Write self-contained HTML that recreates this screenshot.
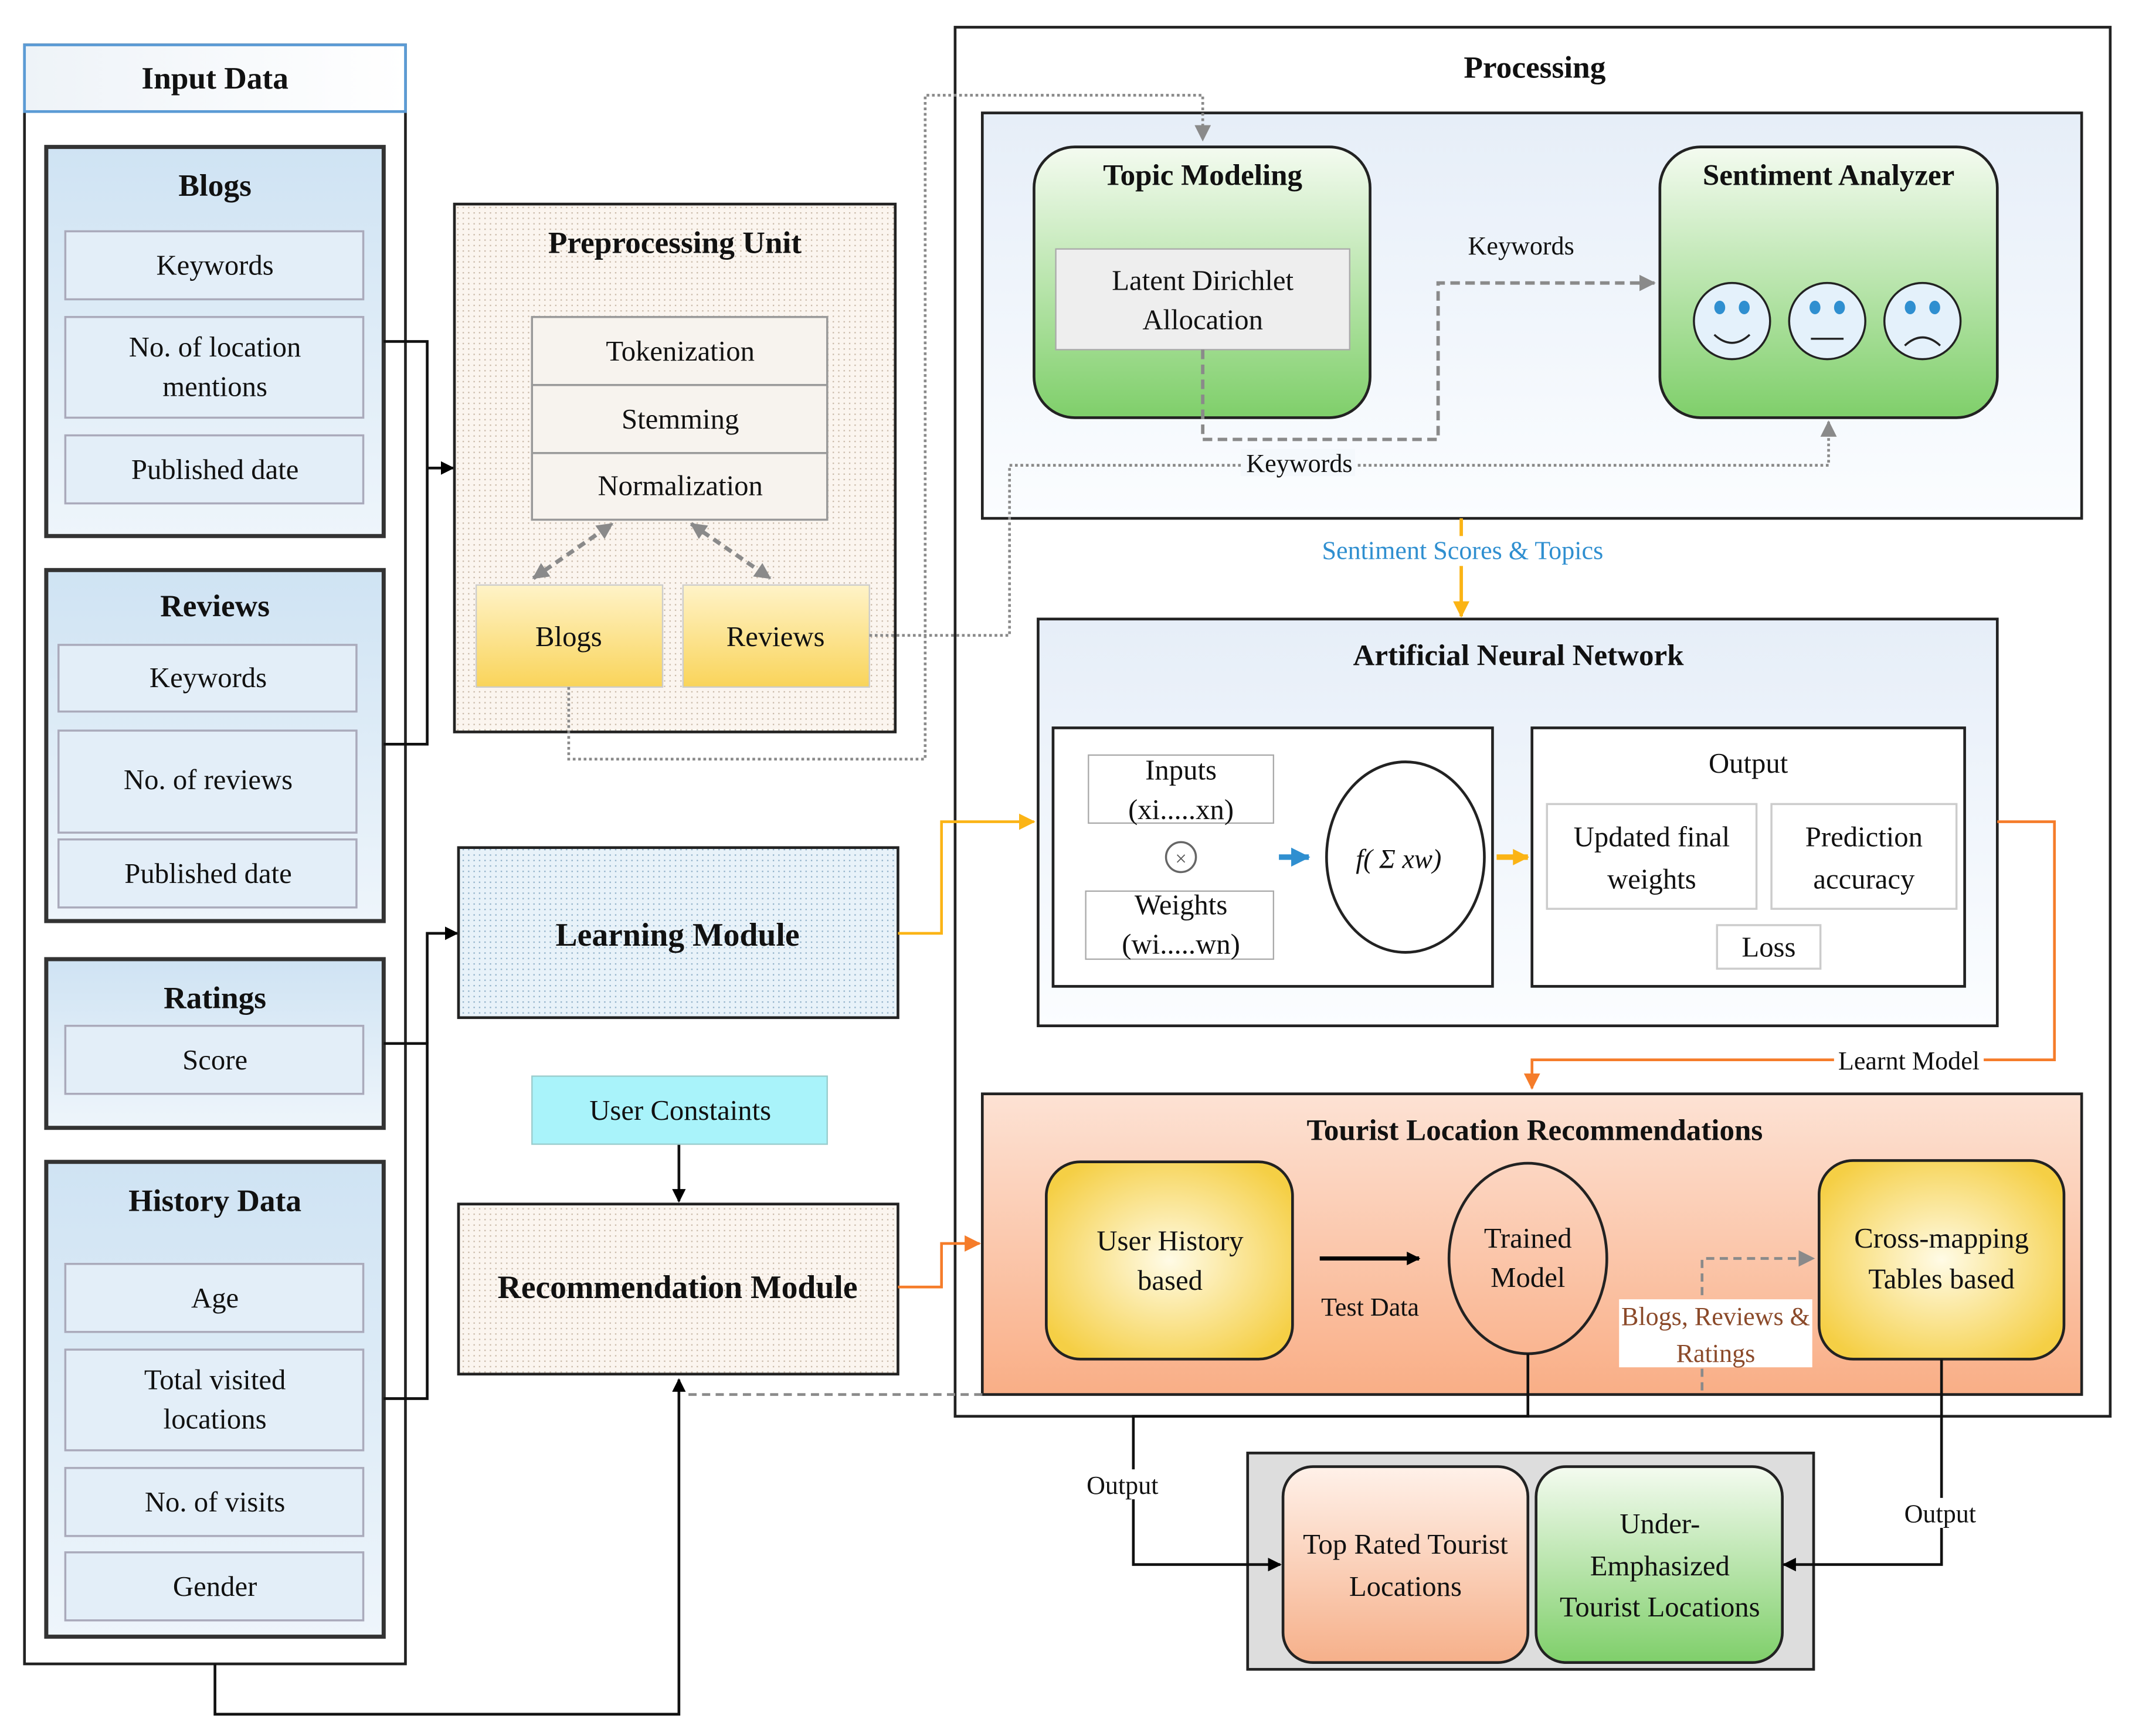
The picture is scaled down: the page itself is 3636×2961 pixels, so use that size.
<!DOCTYPE html>
<html><head><meta charset="utf-8"><style>html,body{margin:0;padding:0;background:#fff}svg{display:block}</style></head><body>
<svg width="3636" height="2961" viewBox="0 0 1567 1276" preserveAspectRatio="none" xmlns="http://www.w3.org/2000/svg" font-family="Liberation Serif, serif">
<defs>
<linearGradient id="gb" x1="0" y1="0" x2="0" y2="1"><stop offset="0" stop-color="#cfe3f3"/><stop offset="1" stop-color="#eef5fb"/></linearGradient>
<linearGradient id="gy" x1="0" y1="0" x2="0" y2="1"><stop offset="0" stop-color="#fff3c8"/><stop offset="1" stop-color="#f9d45a"/></linearGradient>
<linearGradient id="gg" x1="0" y1="0" x2="0" y2="1"><stop offset="0" stop-color="#f4fbf0"/><stop offset="1" stop-color="#7fcf6a"/></linearGradient>
<linearGradient id="gp" x1="0" y1="0" x2="0" y2="1"><stop offset="0" stop-color="#e6eef8"/><stop offset="1" stop-color="#fbfdff"/></linearGradient>
<linearGradient id="go" x1="0" y1="0" x2="0" y2="1"><stop offset="0" stop-color="#fde2d4"/><stop offset="1" stop-color="#f9ae86"/></linearGradient>
<linearGradient id="go2" x1="0" y1="0" x2="0" y2="1"><stop offset="0" stop-color="#fff1e9"/><stop offset="1" stop-color="#f6b08a"/></linearGradient>
<radialGradient id="ry" cx="0.5" cy="0.5" r="0.6"><stop offset="0" stop-color="#fffbe6"/><stop offset="1" stop-color="#f5cf45"/></radialGradient>
<linearGradient id="gh" x1="0" y1="0" x2="1" y2="0"><stop offset="0" stop-color="#eef3f8"/><stop offset="1" stop-color="#ffffff"/></linearGradient>
<pattern id="dt" width="4" height="4" patternUnits="userSpaceOnUse"><rect width="4" height="4" fill="#fbf5ef"/><rect width="1" height="1" fill="#c9b9a8"/></pattern>
<pattern id="db" width="4" height="4" patternUnits="userSpaceOnUse"><rect width="4" height="4" fill="#e8f2f9"/><rect width="1" height="1" fill="#8fb0c8"/></pattern>
<marker id="ak" markerWidth="10" markerHeight="10" refX="9" refY="5" orient="auto" markerUnits="userSpaceOnUse"><path d="M0,0 L10,5 L0,10z" fill="#000"/></marker>
<marker id="ag" markerWidth="12" markerHeight="12" refX="11" refY="6" orient="auto-start-reverse" markerUnits="userSpaceOnUse"><path d="M0,0 L12,6 L0,12z" fill="#8a8a8a"/></marker>
<marker id="ay" markerWidth="12" markerHeight="12" refX="11" refY="6" orient="auto" markerUnits="userSpaceOnUse"><path d="M0,0 L12,6 L0,12z" fill="#fbb415"/></marker>
<marker id="ao" markerWidth="12" markerHeight="12" refX="11" refY="6" orient="auto" markerUnits="userSpaceOnUse"><path d="M0,0 L12,6 L0,12z" fill="#f57c2a"/></marker>
<marker id="ab" markerWidth="14" markerHeight="14" refX="13" refY="7" orient="auto" markerUnits="userSpaceOnUse"><path d="M0,0 L14,7 L0,14z" fill="#2f8fd0"/></marker>
</defs>
<g font-size="21" text-anchor="middle" fill="#111">
<rect x="18" y="33" width="280" height="1190" fill="#fff" stroke="#222" stroke-width="2"/>
<rect x="18" y="33" width="280" height="49" fill="url(#gh)" stroke="#5b9bd5" stroke-width="2"/>
<text x="158" y="65" font-weight="bold" font-size="23">Input Data</text>
<g stroke="#333" stroke-width="3">
<rect x="34" y="108" width="248" height="286" fill="url(#gb)"/>
<rect x="34" y="419" width="248" height="258" fill="url(#gb)"/>
<rect x="34" y="705" width="248" height="124" fill="url(#gb)"/>
<rect x="34" y="854" width="248" height="349" fill="url(#gb)"/>
</g>
<g fill="#e3eef8" stroke="#aab" stroke-width="1.5">
<rect x="48" y="170" width="219" height="50"/><rect x="48" y="233" width="219" height="74"/><rect x="48" y="320" width="219" height="50"/>
<rect x="43" y="474" width="219" height="49"/><rect x="43" y="537" width="219" height="75"/><rect x="43" y="617" width="219" height="50"/>
<rect x="48" y="754" width="219" height="50"/>
<rect x="48" y="929" width="219" height="50"/><rect x="48" y="992" width="219" height="74"/><rect x="48" y="1079" width="219" height="50"/><rect x="48" y="1141" width="219" height="50"/>
</g>
<g font-weight="bold" font-size="23"><text x="158" y="144">Blogs</text><text x="158" y="453">Reviews</text><text x="158" y="741">Ratings</text><text x="158" y="890">History Data</text></g>
<text x="158" y="202">Keywords</text><text x="158" y="262">No. of location</text><text x="158" y="291">mentions</text><text x="158" y="352">Published date</text>
<text x="153" y="505">Keywords</text><text x="153" y="580">No. of reviews</text><text x="153" y="649">Published date</text>
<text x="158" y="786">Score</text>
<text x="158" y="961">Age</text><text x="158" y="1021">Total visited</text><text x="158" y="1050">locations</text><text x="158" y="1111">No. of visits</text><text x="158" y="1173">Gender</text>
<g fill="none" stroke="#111" stroke-width="2">
<path d="M282,251 H314 V547 H282"/><path d="M314,344 H333" marker-end="url(#ak)"/>
<path d="M282,767 H314 V1028 H282"/><path d="M314,767 V686 H336" marker-end="url(#ak)"/>
<path d="M158,1223 V1260 H499 V1014" marker-end="url(#ak)"/>
<path d="M499,841 V883" marker-end="url(#ak)"/>
</g>
<rect x="334" y="150" width="324" height="388" fill="url(#dt)" stroke="#222" stroke-width="2"/>
<text x="496" y="186" font-weight="bold" font-size="23">Preprocessing Unit</text>
<g fill="#f7f3ee" stroke="#999" stroke-width="1.5"><rect x="391" y="233" width="217" height="50"/><rect x="391" y="283" width="217" height="50"/><rect x="391" y="333" width="217" height="49"/></g>
<text x="500" y="265">Tokenization</text><text x="500" y="315">Stemming</text><text x="500" y="364">Normalization</text>
<g fill="url(#gy)" stroke="#ccc"><rect x="350" y="430" width="137" height="75"/><rect x="502" y="430" width="137" height="75"/></g>
<text x="418" y="475">Blogs</text><text x="570" y="475">Reviews</text>
<g stroke="#8a8a8a" stroke-width="3" stroke-dasharray="6,4" fill="none"><path d="M392,425 L450,385" marker-start="url(#ag)" marker-end="url(#ag)"/><path d="M508,385 L566,425" marker-start="url(#ag)" marker-end="url(#ag)"/></g>
<rect x="337" y="623" width="323" height="125" fill="url(#db)" stroke="#222" stroke-width="2"/>
<text x="498" y="695" font-weight="bold" font-size="24">Learning Module</text>
<rect x="391" y="791" width="217" height="50" fill="#a9f3fa" stroke="#9cc"/>
<text x="500" y="823">User Constaints</text>
<rect x="337" y="885" width="323" height="125" fill="url(#dt)" stroke="#222" stroke-width="2"/>
<text x="498" y="954" font-weight="bold" font-size="24">Recommendation Module</text>
<rect x="702" y="20" width="849" height="1021" fill="#fff" stroke="#222" stroke-width="2"/>
<text x="1128" y="57" font-weight="bold" font-size="23">Processing</text>
<rect x="722" y="83" width="808" height="298" fill="url(#gp)" stroke="#222" stroke-width="2"/>
<rect x="760" y="108" width="247" height="199" rx="30" fill="url(#gg)" stroke="#222" stroke-width="2"/>
<text x="884" y="136" font-weight="bold" font-size="22">Topic Modeling</text>
<rect x="776" y="183" width="216" height="74" fill="#eee" stroke="#aaa"/>
<text x="884" y="213">Latent Dirichlet</text><text x="884" y="242">Allocation</text>
<rect x="1220" y="108" width="248" height="199" rx="30" fill="url(#gg)" stroke="#222" stroke-width="2"/>
<text x="1344" y="136" font-weight="bold" font-size="22">Sentiment Analyzer</text>
<g stroke="#222" stroke-width="1.5">
<circle cx="1273" cy="236" r="28" fill="#e4f1fb"/><circle cx="1343" cy="236" r="28" fill="#e4f1fb"/><circle cx="1413" cy="236" r="28" fill="#e4f1fb"/>
</g>
<g fill="#2f8fd0"><ellipse cx="1264" cy="226" rx="4" ry="5"/><ellipse cx="1282" cy="226" rx="4" ry="5"/><ellipse cx="1334" cy="226" rx="4" ry="5"/><ellipse cx="1352" cy="226" rx="4" ry="5"/><ellipse cx="1404" cy="226" rx="4" ry="5"/><ellipse cx="1422" cy="226" rx="4" ry="5"/></g>
<g fill="none" stroke="#222" stroke-width="1.5"><path d="M1260,246 Q1273,258 1286,246"/><path d="M1331,249 H1355"/><path d="M1400,254 Q1413,242 1426,254"/></g>
<g fill="none" stroke="#8a8a8a" stroke-width="2.5" stroke-dasharray="7,4"><path d="M884,257 V323 H1057 V208 H1216" marker-end="url(#ag)"/></g>
<text x="1118" y="187" font-size="19">Keywords</text>
<g fill="none" stroke="#8a8a8a" stroke-width="2" stroke-dasharray="2,2">
<path d="M418,505 V558 H680 V70 H884 V103" marker-end="url(#ag)"/>
<path d="M639,467 H742 V342 H1344 V310" marker-end="url(#ag)"/>
</g>
<rect x="912" y="330" width="84" height="20" fill="#f4f8fc"/>
<text x="955" y="347" font-size="19">Keywords</text>
<path d="M1074,381 V453" stroke="#fbb415" stroke-width="2.5" fill="none" marker-end="url(#ay)"/>
<rect x="966" y="394" width="218" height="22" fill="#fff"/>
<text x="1075" y="411" font-size="19" fill="#2f8fd0">Sentiment Scores &amp; Topics</text>
<rect x="763" y="455" width="705" height="299" fill="url(#gp)" stroke="#222" stroke-width="2"/>
<text x="1116" y="489" font-weight="bold" font-size="22">Artificial Neural Network</text>
<rect x="774" y="535" width="323" height="190" fill="#fff" stroke="#222" stroke-width="2"/>
<rect x="800" y="555" width="136" height="50" fill="#fff" stroke="#aaa"/>
<rect x="798" y="655" width="138" height="50" fill="#fff" stroke="#aaa"/>
<text x="868" y="573">Inputs</text><text x="868" y="602">(xi.....xn)</text>
<text x="868" y="672">Weights</text><text x="868" y="701">(wi.....wn)</text>
<circle cx="868" cy="630" r="11" fill="none" stroke="#666" stroke-width="1.5"/><text x="868" y="636" font-size="15" fill="#555">×</text>
<path d="M940,630 H962" stroke="#2f8fd0" stroke-width="4" marker-end="url(#ab)"/>
<ellipse cx="1033" cy="630" rx="58" ry="70" fill="#fff" stroke="#222" stroke-width="2"/>
<text x="1028" y="638" font-style="italic" font-size="20">f(  Σ   xw)</text>
<path d="M1100,630 H1123" stroke="#fbb415" stroke-width="4" marker-end="url(#ay)"/>
<rect x="1126" y="535" width="318" height="190" fill="#fff" stroke="#222" stroke-width="2"/>
<text x="1285" y="568">Output</text>
<g fill="#fff" stroke="#ccc" stroke-width="1.5"><rect x="1137" y="591" width="154" height="77"/><rect x="1302" y="591" width="136" height="77"/><rect x="1262" y="680" width="76" height="32"/></g>
<text x="1214" y="622">Updated final</text><text x="1214" y="653">weights</text>
<text x="1370" y="622">Prediction</text><text x="1370" y="653">accuracy</text>
<text x="1300" y="703">Loss</text>
<path d="M1468,604 H1510 V779 H1126 V800" fill="none" stroke="#f57c2a" stroke-width="2" marker-end="url(#ao)"/>
<rect x="1348" y="768" width="110" height="22" fill="#fff"/>
<text x="1403" y="786" font-size="19">Learnt Model</text>
<path d="M660,686 H692 V604 H760" fill="none" stroke="#fbb415" stroke-width="2" marker-end="url(#ay)"/>
<path d="M660,946 H692 V914 H720" fill="none" stroke="#f57c2a" stroke-width="2" marker-end="url(#ao)"/>
<rect x="722" y="804" width="808" height="221" fill="url(#go)" stroke="#222" stroke-width="2"/>
<text x="1128" y="838" font-weight="bold" font-size="22">Tourist Location Recommendations</text>
<rect x="769" y="854" width="181" height="145" rx="25" fill="url(#ry)" stroke="#222" stroke-width="2"/>
<text x="860" y="919">User History</text><text x="860" y="948">based</text>
<path d="M970,925 H1043" stroke="#000" stroke-width="3" marker-end="url(#ak)"/>
<text x="1007" y="967" font-size="19">Test Data</text>
<ellipse cx="1123" cy="925" rx="58" ry="70" fill="none" stroke="#222" stroke-width="2"/>
<text x="1123" y="917">Trained</text><text x="1123" y="946">Model</text>
<rect x="1337" y="853" width="180" height="146" rx="25" fill="url(#ry)" stroke="#222" stroke-width="2"/>
<text x="1427" y="917">Cross-mapping</text><text x="1427" y="947">Tables based</text>
<path d="M1251,1022 V925 H1333" fill="none" stroke="#8a8a8a" stroke-width="2" stroke-dasharray="6,4" marker-end="url(#ag)"/>
<rect x="1190" y="955" width="142" height="50" fill="#fff"/>
<text x="1261" y="974" font-size="19" fill="#8b4a2a">Blogs, Reviews &amp;</text><text x="1261" y="1001" font-size="19" fill="#8b4a2a">Ratings</text>
<path d="M722,1025 H502" fill="none" stroke="#8a8a8a" stroke-width="2" stroke-dasharray="6,4"/>
<rect x="917" y="1068" width="416" height="159" fill="#ddd" stroke="#222" stroke-width="2"/>
<rect x="943" y="1078" width="180" height="144" rx="22" fill="url(#go2)" stroke="#222" stroke-width="2"/>
<rect x="1129" y="1078" width="181" height="144" rx="22" fill="url(#gg)" stroke="#222" stroke-width="2"/>
<text x="1033" y="1142">Top Rated Tourist</text><text x="1033" y="1173">Locations</text>
<text x="1220" y="1127">Under-</text><text x="1220" y="1158">Emphasized</text><text x="1220" y="1188">Tourist Locations</text>
<g fill="none" stroke="#111" stroke-width="2">
<path d="M1123,995 V1041 H833 V1150 H941" marker-end="url(#ak)"/>
<path d="M1427,999 V1150 H1311" marker-end="url(#ak)"/>
</g>
<rect x="796" y="1080" width="60" height="22" fill="#fff"/><text x="825" y="1098" font-size="19">Output</text>
<rect x="1396" y="1101" width="60" height="22" fill="#fff"/><text x="1426" y="1119" font-size="19">Output</text>
</g>
</svg>
</body></html>
